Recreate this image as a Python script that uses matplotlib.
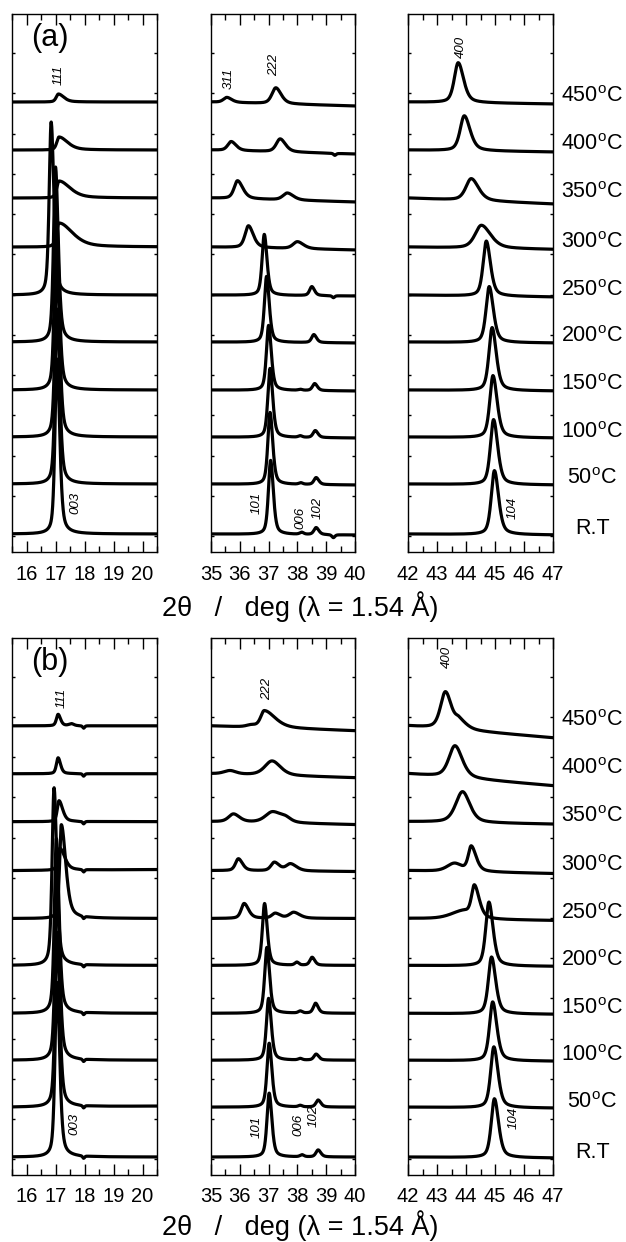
import numpy as np
import matplotlib
matplotlib.use('Agg')
import matplotlib.pyplot as plt
from matplotlib.ticker import MultipleLocator
from matplotlib.transforms import blended_transform_factory

plt.rcParams['font.family'] = ['Liberation Sans', 'DejaVu Sans']
plt.rcParams['mathtext.fontset'] = 'custom'
plt.rcParams['mathtext.rm'] = 'Liberation Sans'

# temperature of each pattern, bottom to top, and its vertical offset
TEMPS = ['R.T', '50', '100', '150', '200', '250', '300', '350', '400', '450']
OFFSETS = [18, 68, 115, 162, 210, 257, 305, 354, 402, 450]

# reflections per pattern: (2theta, height, left hwhm, right hwhm)
A_LOW = [
    [(17.05, 175, 0.08, 0.11)],
    [(17.05, 175, 0.08, 0.11)],
    [(17.05, 175, 0.08, 0.11)],
    [(17.03, 175, 0.08, 0.11)],
    [(17.00, 175, 0.08, 0.11)],
    [(16.85, 173, 0.08, 0.11)],
    [(17.12, 24, 0.10, 0.55)],
    [(17.12, 17, 0.09, 0.45)],
    [(17.12, 13, 0.09, 0.35)],
    [(17.10, 8, 0.09, 0.22)],
]
A_MID = [
    [(37.07, 74, 0.09, 0.11), (38.15, 2, 0.08, 0.08), (38.65, 7, 0.09, 0.11), (39.25, -3, 0.06, 0.06)],
    [(37.05, 72, 0.09, 0.11), (38.12, 1.5, 0.08, 0.08), (38.65, 7, 0.09, 0.11)],
    [(37.05, 69, 0.09, 0.11), (38.10, 1.5, 0.08, 0.08), (38.62, 7, 0.09, 0.11)],
    [(37.00, 65, 0.09, 0.11), (38.10, 1.0, 0.08, 0.08), (38.60, 7, 0.09, 0.11)],
    [(36.93, 66, 0.09, 0.11), (38.57, 8, 0.09, 0.11)],
    [(36.85, 61, 0.09, 0.11), (38.50, 9, 0.09, 0.11), (39.25, -2, 0.05, 0.05)],
    [(36.30, 22, 0.14, 0.20), (38.00, 7, 0.18, 0.25)],
    [(35.92, 18, 0.14, 0.22), (37.65, 7, 0.18, 0.25)],
    [(35.70, 9, 0.14, 0.20), (37.40, 13, 0.16, 0.22), (39.30, -2, 0.05, 0.05)],
    [(35.55, 5, 0.14, 0.20), (37.25, 16, 0.16, 0.22)],
]
A_HIGH = [
    [(44.98, 64, 0.13, 0.17)],
    [(44.95, 65, 0.13, 0.17)],
    [(44.93, 62, 0.13, 0.17)],
    [(44.90, 63, 0.13, 0.17)],
    [(44.80, 56, 0.13, 0.17)],
    [(44.70, 55, 0.13, 0.17)],
    [(44.53, 23, 0.26, 0.38)],
    [(44.18, 22, 0.22, 0.30)],
    [(43.94, 35, 0.17, 0.24)],
    [(43.73, 40, 0.16, 0.22)],
]

B_LOW = [
    [(17.05, 175, 0.08, 0.11), (17.97, -2.5, 0.04, 0.04)],
    [(17.05, 175, 0.08, 0.11), (17.97, -2.5, 0.04, 0.04)],
    [(17.05, 175, 0.08, 0.11), (17.97, -2.5, 0.04, 0.04)],
    [(17.03, 175, 0.08, 0.11), (17.97, -2.5, 0.04, 0.04)],
    [(16.95, 178, 0.08, 0.11), (17.97, -2.5, 0.04, 0.04)],
    [(17.20, 94, 0.07, 0.18), (17.97, -2.5, 0.04, 0.04)],
    [(17.15, 22, 0.08, 0.20), (17.97, -2.5, 0.04, 0.04)],
    [(17.12, 21, 0.07, 0.15), (17.97, -2.5, 0.04, 0.04)],
    [(17.09, 16, 0.07, 0.10), (17.97, -2.5, 0.04, 0.04)],
    [(17.09, 11.5, 0.07, 0.10), (17.55, 2, 0.10, 0.10), (17.97, -2.5, 0.04, 0.04)],
]
B_MID = [
    [(37.02, 64, 0.09, 0.11), (38.16, 2, 0.08, 0.08), (38.72, 7, 0.09, 0.11)],
    [(37.02, 64, 0.09, 0.11), (38.10, 1.5, 0.08, 0.08), (38.72, 7, 0.09, 0.11)],
    [(37.00, 62, 0.09, 0.11), (38.10, 1.5, 0.08, 0.08), (38.65, 6, 0.09, 0.11)],
    [(36.94, 66, 0.09, 0.11), (38.10, 2, 0.08, 0.08), (38.63, 10, 0.09, 0.11)],
    [(36.86, 62, 0.09, 0.11), (37.98, 3, 0.08, 0.08), (38.51, 8, 0.09, 0.11)],
    [(36.15, 15, 0.12, 0.18), (37.23, 5, 0.14, 0.20), (37.87, 6, 0.18, 0.25)],
    [(35.95, 12, 0.12, 0.17), (37.20, 8.5, 0.14, 0.20), (37.76, 7, 0.18, 0.25)],
    [(35.78, 8, 0.20, 0.25), (37.14, 11, 0.30, 0.40), (37.60, 3, 0.20, 0.20)],
    [(35.66, 3.5, 0.25, 0.25), (37.12, 14.5, 0.30, 0.35)],
    [(36.40, 2, 0.20, 0.20), (36.85, 17, 0.15, 0.45)],
]
B_HIGH = [
    [(44.98, 59, 0.13, 0.17)],
    [(44.96, 61, 0.13, 0.17)],
    [(44.92, 59, 0.13, 0.17)],
    [(44.88, 57, 0.13, 0.17)],
    [(44.79, 64, 0.13, 0.17)],
    [(44.29, 32, 0.12, 0.20), (43.90, 8, 0.50, 0.30)],
    [(44.18, 25, 0.12, 0.20), (43.60, 8, 0.30, 0.30)],
    [(43.88, 31, 0.28, 0.30)],
    [(43.62, 32, 0.25, 0.30)],
    [(43.29, 37, 0.20, 0.25), (43.76, 8, 0.15, 0.30)],
]

# background change from the left to the right edge of each window
A_DRIFT = [
    [0, 0, 0, 0, 0, 0, 0, 0, 0, 0],
    [-1, -1, -1, -1, -1, -1, -3, -4, -4, -4],
    [-1, -1, -1, -1, -1, -2, -2.5, -6, -2, -2],
]
B_DRIFT = [
    [0, 1, 0, 0, 0, 0, 1, 0, 0, 0],
    [0, 0, 0, 0, 0, 0, -1, -3, -4, -5],
    [-1, -1, -1, -1, -1, -2, -3, -2.5, -12, -12],
]

# reflection indices written on the plots: (window, text, 2theta, height)
A_HKL = [
    (0, '111', 17.12, 477), (0, '003', 17.67, 49),
    (1, '311', 35.60, 474), (1, '222', 37.20, 487),
    (1, '101', 36.60, 49), (1, '006', 38.10, 34), (1, '102', 38.70, 44),
    (2, '400', 43.83, 505), (2, '104', 45.60, 44),
]
B_HKL = [
    (0, '111', 17.20, 478), (0, '003', 17.66, 51),
    (1, '222', 36.94, 487),
    (1, '101', 36.59, 48), (1, '006', 38.05, 50), (1, '102', 38.57, 59),
    (2, '400', 43.35, 519), (2, '104', 45.65, 57),
]

XRANGES = [(15.5, 20.5), (35.0, 40.0), (42.0, 47.0)]

W, H = 626, 1242
COLS = [(12, 157), (211, 355), (408, 553)]


def profile(x, peaks):
    y = np.zeros_like(x)
    for c, h, wl, wr in peaks:
        u = (x - c) / np.where(x < c, wl, wr)
        y += h * (0.5 / (1 + u ** 2) + 0.5 * np.exp(-np.log(2) * u ** 2))
    return y


def draw_panel(fig, top, bottom, sets, drifts, hkl, tag):
    axes = []
    for k, (l, r) in enumerate(COLS):
        ax = fig.add_axes([l / W, 1 - bottom / H, (r - l) / W, (bottom - top) / H])
        x0, x1 = XRANGES[k]
        x = np.linspace(x0, x1, 800)
        for i, peaks in enumerate(sets[k]):
            y = OFFSETS[i] + profile(x, peaks) + drifts[k][i] * (x - x0) / (x1 - x0)
            ax.plot(x, y, color='black', lw=2.3, solid_joinstyle='round')
        ax.set_xlim(x0, x1)
        ax.set_ylim(0, 538)
        ax.xaxis.set_major_locator(MultipleLocator(1))
        ax.xaxis.set_minor_locator(MultipleLocator(0.5))
        ax.set_yticks(np.arange(16, 530, 40.25))
        ax.set_yticklabels([])
        ax.tick_params(axis='x', which='both', direction='in', top=True, bottom=True,
                       labelsize=14.5, pad=9, width=1.0)
        ax.tick_params(axis='x', which='major', length=8)
        ax.tick_params(axis='x', which='minor', length=4)
        ax.tick_params(axis='y', which='both', direction='in', left=True, right=True,
                       length=2.5, width=1.0)
        for s in ax.spines.values():
            s.set_linewidth(1.0)
        axes.append(ax)

    for k, txt, xx, yy in hkl:
        axes[k].text(xx, yy, txt, rotation=90, fontsize=9.5, style='italic',
                     ha='center', va='center')

    trans = blended_transform_factory(axes[2].transAxes, axes[2].transData)
    for i, t in enumerate(TEMPS):
        lab = 'R.T' if t == 'R.T' else t + r'$^{\rm o}$C'
        axes[2].text(1.27, OFFSETS[i] + 5, lab, transform=trans, fontsize=15.5,
                     ha='center', va='center')

    axes[0].text(0.26, 0.955, tag, transform=axes[0].transAxes, fontsize=22,
                 ha='center', va='center')
    return axes


fig = plt.figure(figsize=(W / 100, H / 100), dpi=100)

draw_panel(fig, 14, 552, [A_LOW, A_MID, A_HIGH], A_DRIFT, A_HKL, '(a)')
draw_panel(fig, 638, 1175, [B_LOW, B_MID, B_HIGH], B_DRIFT, B_HKL, '(b)')

xlabel = '2\u03b8   /   deg (\u03bb = 1.54 \u00c5)'
fig.text(300 / W, 1 - 607 / H, xlabel, fontsize=19.5, ha='center', va='center')
fig.text(300 / W, 1 - 1226 / H, xlabel, fontsize=19.5, ha='center', va='center')

fig.savefig('out.png', dpi=100)
